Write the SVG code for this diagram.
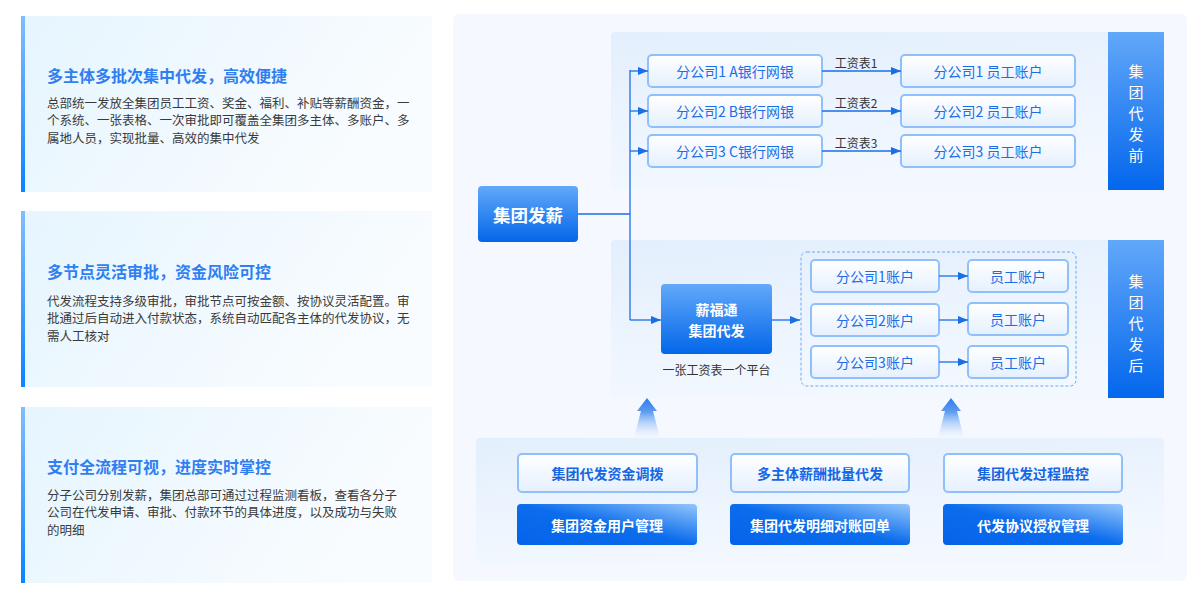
<svg xmlns="http://www.w3.org/2000/svg" width="1200" height="600" viewBox="0 0 1200 600">
<defs>
<linearGradient id="gPanel" x1="0" y1="0" x2="1" y2="0.3"><stop offset="0" stop-color="#e6f5fe"/><stop offset="1" stop-color="#f9fcff"/></linearGradient>
<linearGradient id="gBar" x1="0" y1="0" x2="0" y2="1"><stop offset="0" stop-color="#82bcfb"/><stop offset="1" stop-color="#0a84ff"/></linearGradient>
<linearGradient id="gGroup" x1="0" y1="0" x2="0.3" y2="1"><stop offset="0" stop-color="#e3effd"/><stop offset="1" stop-color="#f3f8ff"/></linearGradient>
<linearGradient id="gSide" x1="0" y1="0" x2="0" y2="1"><stop offset="0" stop-color="#62a8f9"/><stop offset="1" stop-color="#0366ec"/></linearGradient>
<linearGradient id="gDark" x1="0" y1="0" x2="0" y2="1"><stop offset="0" stop-color="#62a9f9"/><stop offset="1" stop-color="#0366ea"/></linearGradient>
<linearGradient id="gLight" x1="0" y1="0" x2="0" y2="1"><stop offset="0" stop-color="#ffffff"/><stop offset="1" stop-color="#e5f0fe"/></linearGradient>
<linearGradient id="gBtn" x1="0" y1="1" x2="1" y2="0"><stop offset="0" stop-color="#0563ea"/><stop offset="0.5" stop-color="#0b6cec"/><stop offset="1" stop-color="#93c6fc"/></linearGradient>
<linearGradient id="gUp" x1="0" y1="0" x2="0" y2="1"><stop offset="0" stop-color="#2f7cec"/><stop offset="0.35" stop-color="#5e9cf2"/><stop offset="1" stop-color="#e8f1fd" stop-opacity="0.2"/></linearGradient>
<marker id="arr" markerUnits="userSpaceOnUse" markerWidth="10" markerHeight="8" refX="10" refY="4" orient="auto"><path d="M0,0 L10,4 L0,8 z" fill="#1a6ee8"/></marker>
</defs>
<style>
text{font-family:"Noto Sans CJK SC","Noto Sans",sans-serif;dominant-baseline:central}
.title{font-size:16px;font-weight:bold;fill:#2f7ff2}
.body{font-size:12.5px;fill:#3a3a3a}
.light{fill:url(#gLight);stroke:#90c0fb;stroke-width:2}
.nt{font-size:14px;fill:#1c6de8;text-anchor:middle}
.bt{font-size:14px;font-weight:bold;fill:#1666e4;text-anchor:middle}
.wt{font-size:14px;font-weight:bold;fill:#ffffff;text-anchor:middle}
.st{font-size:15px;fill:#ffffff;text-anchor:middle}
.lbl{font-size:12px;fill:#333333;text-anchor:middle}
.con{stroke:#1a6ee8;stroke-width:1.3;fill:none}
</style>
<rect width="1200" height="600" fill="#ffffff"/>

<g id="feature1">
<rect x="21" y="16" width="411" height="176" fill="url(#gPanel)"/>
<rect x="21" y="16" width="4" height="176" fill="url(#gBar)"/>
<text class="title" x="47" y="75">多主体多批次集中代发，高效便捷</text>
<text class="body" x="47" y="102">总部统一发放全集团员工工资、奖金、福利、补贴等薪酬资金，一</text>
<text class="body" x="47" y="119.5">个系统、一张表格、一次审批即可覆盖全集团多主体、多账户、多</text>
<text class="body" x="47" y="137">属地人员，实现批量、高效的集中代发</text>
</g>
<g id="feature2">
<rect x="21" y="211" width="411" height="176" fill="url(#gPanel)"/>
<rect x="21" y="211" width="4" height="176" fill="url(#gBar)"/>
<text class="title" x="47" y="271">多节点灵活审批，资金风险可控</text>
<text class="body" x="47" y="300">代发流程支持多级审批，审批节点可按金额、按协议灵活配置。审</text>
<text class="body" x="47" y="317.5">批通过后自动进入付款状态，系统自动匹配各主体的代发协议，无</text>
<text class="body" x="47" y="335">需人工核对</text>
</g>
<g id="feature3">
<rect x="21" y="407" width="411" height="176" fill="url(#gPanel)"/>
<rect x="21" y="407" width="4" height="176" fill="url(#gBar)"/>
<text class="title" x="47" y="466">支付全流程可视，进度实时掌控</text>
<text class="body" x="47" y="494">分子公司分别发薪，集团总部可通过过程监测看板，查看各分子</text>
<text class="body" x="47" y="511.5">公司在代发申请、审批、付款环节的具体进度，以及成功与失败</text>
<text class="body" x="47" y="529">的明细</text>
</g>

<g id="container">
<rect x="453" y="14" width="734" height="567" rx="6" fill="#f5f9ff"/>
</g>

<g id="group-before">
<rect x="611" y="32" width="553" height="158" rx="4" fill="url(#gGroup)"/>
<rect x="1108" y="32" width="56" height="158" fill="url(#gSide)"/>
<text class="st" x="1136" y="70">集</text>
<text class="st" x="1136" y="91">团</text>
<text class="st" x="1136" y="112">代</text>
<text class="st" x="1136" y="133">发</text>
<text class="st" x="1136" y="154">前</text>
</g>
<g id="group-after">
<rect x="611" y="240" width="553" height="158" rx="4" fill="url(#gGroup)"/>
<rect x="1108" y="240" width="56" height="158" fill="url(#gSide)"/>
<text class="st" x="1136" y="280">集</text>
<text class="st" x="1136" y="301">团</text>
<text class="st" x="1136" y="322">代</text>
<text class="st" x="1136" y="343">发</text>
<text class="st" x="1136" y="364">后</text>
</g>

<g id="group-pay">
<rect x="478" y="186" width="100" height="56" rx="4" fill="url(#gDark)"/>
<text x="528" y="214" font-size="17.5" font-weight="bold" fill="#ffffff" text-anchor="middle">集团发薪</text>
</g>

<g id="bank1"><rect class="light" x="648" y="55" width="174" height="32" rx="4"/><text class="nt" x="735" y="71">分公司1 A银行网银</text></g>
<g id="bank2"><rect class="light" x="648" y="95" width="174" height="32" rx="4"/><text class="nt" x="735" y="111">分公司2 B银行网银</text></g>
<g id="bank3"><rect class="light" x="648" y="135" width="174" height="32" rx="4"/><text class="nt" x="735" y="151">分公司3 C银行网银</text></g>
<g id="emp1"><rect class="light" x="901" y="55" width="174" height="32" rx="4"/><text class="nt" x="988" y="71">分公司1 员工账户</text></g>
<g id="emp2"><rect class="light" x="901" y="95" width="174" height="32" rx="4"/><text class="nt" x="988" y="111">分公司2 员工账户</text></g>
<g id="emp3"><rect class="light" x="901" y="135" width="174" height="32" rx="4"/><text class="nt" x="988" y="151">分公司3 员工账户</text></g>

<g id="xinfutong">
<rect x="661" y="284" width="111" height="70" rx="4" fill="url(#gDark)"/>
<text class="wt" x="716.5" y="309">薪福通</text>
<text class="wt" x="716.5" y="330">集团代发</text>
<text class="lbl" x="716.5" y="369">一张工资表一个平台</text>
</g>

<g id="accounts-box">
<rect x="801" y="252" width="275" height="134" rx="6" fill="none" stroke="#6aa8f5" stroke-width="1" stroke-dasharray="3 2"/>
</g>
<g id="sub1"><rect class="light" x="811" y="260" width="128" height="32" rx="4"/><text class="nt" x="875" y="276">分公司1账户</text></g>
<g id="sub2"><rect class="light" x="811" y="304" width="128" height="32" rx="4"/><text class="nt" x="875" y="320">分公司2账户</text></g>
<g id="sub3"><rect class="light" x="811" y="346" width="128" height="32" rx="4"/><text class="nt" x="875" y="362">分公司3账户</text></g>
<g id="staff1"><rect class="light" x="968" y="260" width="100" height="32" rx="4"/><text class="nt" x="1018" y="276">员工账户</text></g>
<g id="staff2"><rect class="light" x="968" y="303" width="100" height="32" rx="4"/><text class="nt" x="1018" y="319">员工账户</text></g>
<g id="staff3"><rect class="light" x="968" y="346" width="100" height="32" rx="4"/><text class="nt" x="1018" y="362">员工账户</text></g>

<g id="connectors">
<path class="con" d="M578,214 H630"/>
<path class="con" d="M630,70 V320"/>
<path class="con" d="M630,71 H648" marker-end="url(#arr)"/>
<path class="con" d="M630,111 H648" marker-end="url(#arr)"/>
<path class="con" d="M630,151 H648" marker-end="url(#arr)"/>
<path class="con" d="M630,320 H661" marker-end="url(#arr)"/>
<path class="con" d="M822,71 H901" marker-end="url(#arr)"/>
<path class="con" d="M822,111 H901" marker-end="url(#arr)"/>
<path class="con" d="M822,151 H901" marker-end="url(#arr)"/>
<text class="lbl" x="856" y="62.5">工资表1</text>
<text class="lbl" x="856" y="102.5">工资表2</text>
<text class="lbl" x="856" y="142.5">工资表3</text>
<path class="con" d="M772,320 H800" marker-end="url(#arr)"/>
<path class="con" d="M939,276 H968" marker-end="url(#arr)"/>
<path class="con" d="M939,320 H968" marker-end="url(#arr)"/>
<path class="con" d="M939,362 H968" marker-end="url(#arr)"/>
<path d="M647,398 L657,411 L653,411 L660,438 L634,438 L641,411 L637,411 Z" fill="url(#gUp)"/>
<path d="M951,398 L961,411 L957,411 L964,438 L938,438 L945,411 L941,411 Z" fill="url(#gUp)"/>
</g>

<g id="capabilities">
<rect x="476" y="438" width="688" height="125" rx="4" fill="url(#gGroup)"/>
</g>
<g id="cap1"><rect class="light" x="518" y="454" width="179" height="38" rx="4"/><text class="bt" x="607.5" y="473">集团代发资金调拨</text></g>
<g id="cap2"><rect class="light" x="731" y="454" width="178" height="38" rx="4"/><text class="bt" x="820" y="473">多主体薪酬批量代发</text></g>
<g id="cap3"><rect class="light" x="944" y="454" width="178" height="38" rx="4"/><text class="bt" x="1033" y="473">集团代发过程监控</text></g>
<g id="cap4"><rect x="517" y="504" width="180" height="41" rx="4" fill="url(#gBtn)"/><text class="wt" x="607" y="525">集团资金用户管理</text></g>
<g id="cap5"><rect x="730" y="504" width="180" height="41" rx="4" fill="url(#gBtn)"/><text class="wt" x="820" y="525">集团代发明细对账回单</text></g>
<g id="cap6"><rect x="943" y="504" width="180" height="41" rx="4" fill="url(#gBtn)"/><text class="wt" x="1033" y="525">代发协议授权管理</text></g>
</svg>
